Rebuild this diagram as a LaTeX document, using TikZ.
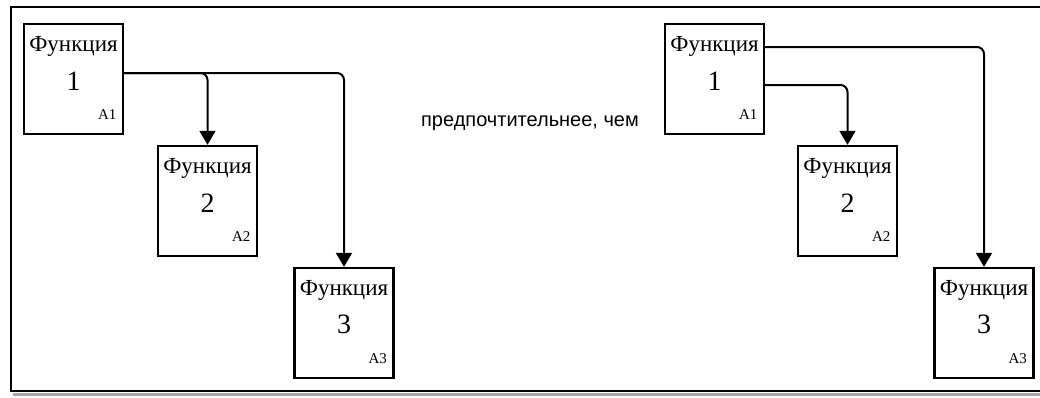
\documentclass[tikz,border=0pt]{standalone}
\usepackage{fontspec}
\setmainfont{Liberation Serif}
\newfontfamily\notefont{Liberation Sans}
\usetikzlibrary{positioning}
\usetikzlibrary{calc}
\usetikzlibrary{arrows.meta}

\begin{document}
\begin{tikzpicture}[x=1pt,y=-1pt,>={Triangle[length=14pt,width=16pt]}]
			\tikzset{fbox/.style = {shape=rectangle, draw, line width=2.4pt, minimum width=99pt, minimum height=110pt, inner sep=0pt}}
			\tikzset{ftitle/.style = {font=\fontsize{23}{25}\selectfont, inner sep=0pt}}
			\tikzset{fnum/.style = {font=\fontsize{28}{30}\selectfont, inner sep=0pt}}
			\tikzset{fcode/.style = {font=\fontsize{15}{16}\selectfont, inner sep=0pt}}
			\tikzset{conn/.style = {->, line width=2pt, rounded corners=7pt}}
			
			\useasboundingbox (0,0) rectangle (1040,397);
			\clip (0,0) rectangle (1040,397);
			
			% frame
			\draw[line width=3pt, gray!70] (13,394.5) -- (1050,394.5);
			\draw[line width=2.4pt] (11,7) rectangle (1050,391);
			
			% left variant
			\node[fbox] (L1) at (73.5,79) {};
			\node[fbox] (L2) at (207.5,201) {};
			\node[fbox] (L3) at (344,323) {};
			
			% right variant
			\node[fbox] (R1) at (714.5,79) {};
			\node[fbox] (R2) at (847.5,201) {};
			\node[fbox] (R3) at (984,323) {};
			
			\node[ftitle] (L1t) at ([yshift=-24pt]L1.north) {Функция};
			\node[fnum] (L1n) at ([yshift=-58pt]L1.north) {1};
			\node[fcode] (L1c) at ([xshift=-17pt,yshift=21pt]L1.south east) {A1};
			\node[ftitle] (L2t) at ([yshift=-24pt]L2.north) {Функция};
			\node[fnum] (L2n) at ([yshift=-58pt]L2.north) {2};
			\node[fcode] (L2c) at ([xshift=-17pt,yshift=21pt]L2.south east) {A2};
			\node[ftitle] (L3t) at ([yshift=-24pt]L3.north) {Функция};
			\node[fnum] (L3n) at ([yshift=-58pt]L3.north) {3};
			\node[fcode] (L3c) at ([xshift=-17pt,yshift=21pt]L3.south east) {A3};
			
			\node[ftitle] (R1t) at ([yshift=-24pt]R1.north) {Функция};
			\node[fnum] (R1n) at ([yshift=-58pt]R1.north) {1};
			\node[fcode] (R1c) at ([xshift=-17pt,yshift=21pt]R1.south east) {A1};
			\node[ftitle] (R2t) at ([yshift=-24pt]R2.north) {Функция};
			\node[fnum] (R2n) at ([yshift=-58pt]R2.north) {2};
			\node[fcode] (R2c) at ([xshift=-17pt,yshift=21pt]R2.south east) {A2};
			\node[ftitle] (R3t) at ([yshift=-24pt]R3.north) {Функция};
			\node[fnum] (R3n) at ([yshift=-58pt]R3.north) {3};
			\node[fcode] (R3c) at ([xshift=-17pt,yshift=21pt]R3.south east) {A3};
			
			\node[font=\notefont\fontsize{20}{22}\selectfont, inner sep=0pt] (PREF) at (530,123) {предпочтительнее, чем};
			
			\draw[conn] ([yshift=6pt]L1.east) -| (L3.north);
			\draw[conn] ([yshift=6pt]L1.east) -| (L2.north);
			\draw[conn] ([yshift=32pt]R1.east) -| (R3.north);
			\draw[conn] ([yshift=-6pt]R1.east) -| (R2.north);
			
			\end{tikzpicture}
\end{document}
